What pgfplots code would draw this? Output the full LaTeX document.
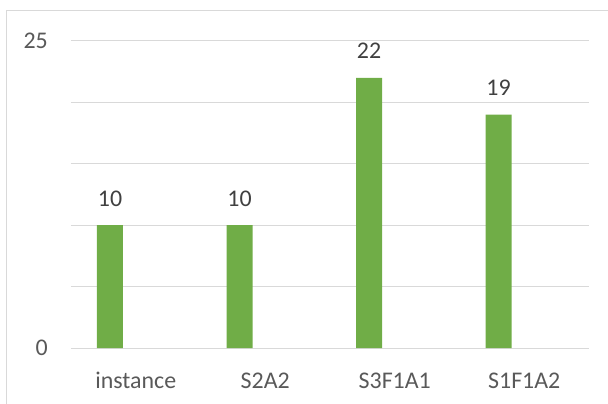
\documentclass[border=0pt]{standalone}
\usepackage{pgfplots}
\pgfplotsset{compat=1.18}
\usepackage{fontspec}
\setmainfont{Carlito}
\definecolor{barg}{HTML}{70AD47}
\definecolor{gridc}{HTML}{D9D9D9}
\definecolor{txt}{HTML}{595959}
\definecolor{lbl}{HTML}{404040}
\begin{document}
\begin{tikzpicture}[x=1bp,y=1bp]
\useasboundingbox (-71bp,-56bp) rectangle (537bp,348bp);
\draw[gridc, line width=1bp] (-64bp,-60bp) -- (-64bp,337bp) -- (545bp,337bp);
\begin{axis}[
  at={(0bp,0bp)}, anchor=south west,
  scale only axis, width=518bp, height=307bp,
  xmin=-0.5, xmax=3.5, ymin=0, ymax=25,
  axis line style={draw=none},
  ymajorgrids, grid style={gridc, line width=1bp},
  xtick={0,1,2,3},
  xticklabels={instance,S2A2,S3F1A1,S1F1A2},
  ytick={0,5,10,15,20,25},
  yticklabels={0,,,,,25},
  major tick length=0pt,
  major tick style={draw=none},
  /pgf/number format/assume math mode=true,
  tick label style={font=\fontsize{24}{28}\selectfont, text=txt},
  xticklabel style={anchor=base, inner sep=0pt, yshift=-40bp},
  yticklabel style={anchor=east, inner sep=0pt, xshift=-23bp},
  clip=false,
]
\draw[gridc, line width=1bp] (axis cs:-0.5,0) -- (axis cs:3.5,0);
\addplot[ybar, fill=barg, draw=none, bar width=26bp, bar shift=-25.75bp,
  nodes near coords,
  every node near coord/.style={font=\fontsize{24}{28}\selectfont, text=lbl, anchor=base, inner sep=0pt, yshift=19bp, xshift=-25.75bp}]
  coordinates {(0,10) (1,10) (2,22) (3,19)};
\end{axis}
\end{tikzpicture}
\end{document}
